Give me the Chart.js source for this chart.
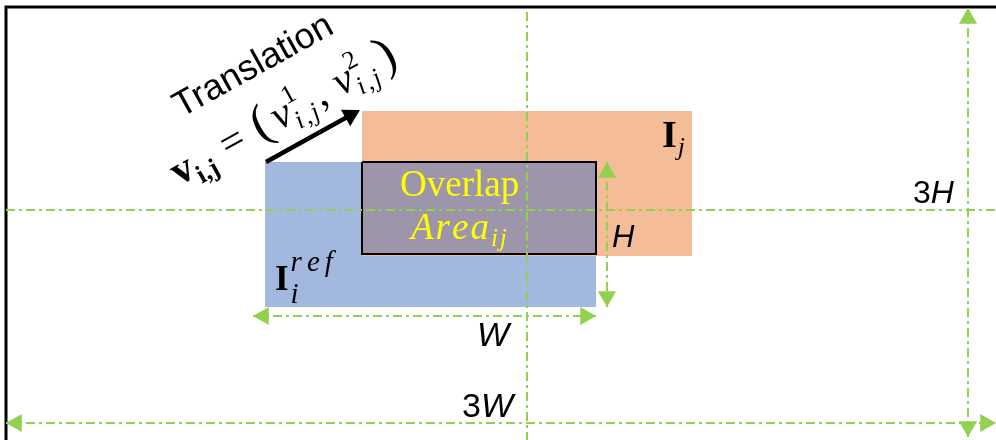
<!DOCTYPE html>
<html><head><meta charset="utf-8">
<script src="https://cdn.jsdelivr.net/npm/chart.js@4.4.1/dist/chart.umd.min.js"></script>
<style>html,body{margin:0;padding:0;background:#fff}#wrap{width:996px;height:440px}</style>
</head><body><div id="wrap"><canvas id="c" width="996" height="440"></canvas></div>
<script>
// ---- data (diagram units on a 996 x 440 board) ----
const boxNames   = ['I_i^ref', 'I_j', 'Overlap'];
const boxLeft    = [265, 362, 362];
const boxRight   = [596, 692, 596];
const boxTop     = [162, 111, 162];
const boxBottom  = [307, 256, 254];

const frameX = [6, 6, 996];
const frameY = [440, 7, 7];

const guideNames = ['vertical centre', 'horizontal centre'];
const guideX1 = [527, 6];
const guideY1 = [12, 210];
const guideX2 = [527, 996];
const guideY2 = [440, 210];

const dimNames = ['W', 'H', '3W', '3H'];
const dimX1 = [253, 607, 6, 968];
const dimY1 = [316, 162, 423, 8];
const dimX2 = [596, 607, 996, 968];
const dimY2 = [316, 307, 423, 437];

const moveFrom = [266, 162];
const moveTo   = [360, 110];

const labelTexts = ['Translation', 'Overlap', 'Area', 'W', '3W', 'H', '3H'];

// ---- styles ----
const GREEN = '#92d050';
const boxColors = ['#a3b8df', '#f5bc98', '#9d95aa'];
const HEAD = 10.5;

const datasets = [];
boxNames.forEach((n, i) => {
  datasets.push({
    label: n,
    data: [{x: boxLeft[i], y: boxTop[i]}, {x: boxRight[i], y: boxTop[i]}],
    fill: {value: boxBottom[i]},
    backgroundColor: boxColors[i],
    borderWidth: 0, pointRadius: 0, clip: false
  });
});
datasets.push({
  label: 'overlap outline',
  data: [
    {x: boxLeft[2], y: boxTop[2]}, {x: boxRight[2], y: boxTop[2]},
    {x: boxRight[2], y: boxBottom[2]}, {x: boxLeft[2], y: boxBottom[2]},
    {x: boxLeft[2], y: boxTop[2]}
  ],
  borderColor: '#000', borderWidth: 2, pointRadius: 0, fill: false, clip: false
});
datasets.push({
  label: 'frame',
  data: frameX.map((x, i) => ({x, y: frameY[i]})),
  borderColor: '#000', borderWidth: 3, pointRadius: 0, fill: false, clip: false,
  borderJoinStyle: 'miter'
});
guideNames.forEach((n, i) => {
  datasets.push({
    label: n,
    data: [{x: guideX1[i], y: guideY1[i]}, {x: guideX2[i], y: guideY2[i]}],
    borderColor: GREEN, borderWidth: 2, borderDash: [9, 4, 3, 4],
    pointRadius: 0, fill: false, clip: false
  });
});
const headPts = [], headRot = [];
function addHead(tx, ty, fx, fy) {
  const dx = tx - fx, dy = ty - fy, L = Math.hypot(dx, dy);
  const ux = dx / L, uy = dy / L;
  headPts.push({x: tx - ux * HEAD, y: ty - uy * HEAD});
  headRot.push(Math.atan2(ux, -uy) * 180 / Math.PI);
}
dimNames.forEach((n, i) => {
  datasets.push({
    label: n,
    data: [{x: dimX1[i], y: dimY1[i]}, {x: dimX2[i], y: dimY2[i]}],
    borderColor: GREEN, borderWidth: 2, borderDash: [9, 4, 3, 4],
    pointRadius: 0, fill: false, clip: false
  });
  addHead(dimX1[i], dimY1[i], dimX2[i], dimY2[i]);
  addHead(dimX2[i], dimY2[i], dimX1[i], dimY1[i]);
});
datasets.push({
  label: 'heads', data: headPts, showLine: false,
  pointStyle: 'triangle', pointRadius: HEAD, rotation: headRot,
  backgroundColor: GREEN, borderColor: GREEN, borderWidth: 0, clip: false
});
(function () {
  const dx = moveTo[0] - moveFrom[0], dy = moveTo[1] - moveFrom[1], L = Math.hypot(dx, dy);
  const ux = dx / L, uy = dy / L, r = 11;
  const c = {x: moveTo[0] - ux * r, y: moveTo[1] - uy * r};
  datasets.push({
    label: 'translation',
    data: [{x: moveFrom[0], y: moveFrom[1]}, c],
    borderColor: '#000', borderWidth: 4.5, pointRadius: 0, fill: false, clip: false
  });
  datasets.push({
    label: 'translation head', data: [c], showLine: false,
    pointStyle: 'triangle', pointRadius: r, rotation: Math.atan2(ux, -uy) * 180 / Math.PI,
    backgroundColor: '#000', borderWidth: 0, clip: false
  });
})();
// draw in array order (first = bottom)
datasets.forEach((d, i) => { d.order = datasets.length - i; });

// ---- text ----
function drawRuns(ctx, x, y, angle, runs, color) {
  ctx.save();
  ctx.translate(x, y);
  ctx.rotate(angle * Math.PI / 180);
  ctx.textBaseline = 'alphabetic';
  ctx.textAlign = 'left';
  ctx.fillStyle = color;
  let cx = 0;
  for (const r of runs) {
    if (r.stack) {
      let w = 0;
      for (const s of r.stack) {
        ctx.font = s.f;
        let sx = cx;
        if (s.ls) {
          for (const ch of s.t) { ctx.fillText(ch, sx, s.dy || 0); sx += ctx.measureText(ch).width + s.ls; }
          w = Math.max(w, sx - cx - s.ls);
        } else {
          ctx.fillText(s.t, cx, s.dy || 0);
          w = Math.max(w, ctx.measureText(s.t).width);
        }
      }
      cx += w + (r.gap || 0);
    } else {
      ctx.font = r.f;
      if (r.ls) {
        for (const ch of r.t) { ctx.fillText(ch, cx, r.dy || 0); cx += ctx.measureText(ch).width + r.ls; }
      } else {
        ctx.fillText(r.t, cx, r.dy || 0);
        cx += ctx.measureText(r.t).width;
      }
      cx += r.gap || 0;
    }
  }
  ctx.restore();
}
const SANS = '"Liberation Sans", Arial, sans-serif';
const SERIF = '"Liberation Serif", "Times New Roman", serif';
const textPlugin = {
  id: 'texts',
  afterDatasetsDraw(chart) {
    const {ctx, scales: {x, y}} = chart;
    const P = (a, b) => [x.getPixelForValue(a), y.getPixelForValue(b)];
    let p;
    p = P(181, 118);
    drawRuns(ctx, p[0], p[1], -29, [{t: labelTexts[0], f: '36px ' + SANS}], '#000');
    p = P(179, 186);
    const sub = (t) => ({t, f: 'italic 26px ' + SERIF, dy: 9, ls: 2});
    drawRuns(ctx, p[0], p[1], -29, [
      {t: 'v', f: 'bold 42px ' + SERIF},
      {t: 'i,j', f: 'bold 26px ' + SERIF, dy: 9, gap: 13},
      {t: '=', f: '42px ' + SERIF, gap: 13},
      {t: '(', f: '50px ' + SERIF, gap: 5},
      {t: 'v', f: 'italic 42px ' + SERIF},
      {stack: [{t: '1', f: '26px ' + SERIF, dy: -19}, sub('i,j')], gap: 4},
      {t: ', ', f: '42px ' + SERIF, gap: 2},
      {t: 'v', f: 'italic 42px ' + SERIF},
      {stack: [{t: '2', f: '26px ' + SERIF, dy: -19}, sub('i,j')], gap: 7},
      {t: ')', f: '50px ' + SERIF}
    ], '#000');
    p = P(400, 196);
    drawRuns(ctx, p[0], p[1], 0, [{t: labelTexts[1], f: '37px ' + SERIF}], '#ffff00');
    p = P(411, 239);
    drawRuns(ctx, p[0], p[1], 0, [
      {t: labelTexts[2], f: 'italic 37px ' + SERIF, ls: 2},
      {t: 'ij', f: 'italic 25px ' + SERIF, dy: 7, ls: 2}
    ], '#ffff00');
    p = P(662, 147);
    drawRuns(ctx, p[0], p[1], 0, [
      {t: 'I', f: 'bold 38px ' + SERIF, gap: 1},
      {t: 'j', f: 'italic 26px ' + SERIF, dy: 8}
    ], '#000');
    p = P(275, 290);
    drawRuns(ctx, p[0], p[1], 0, [
      {t: 'I', f: 'bold 35px ' + SERIF, gap: 2},
      {stack: [{t: 'ref', f: 'italic 29px ' + SERIF, dy: -19, ls: 5}, {t: 'i', f: 'italic 29px ' + SERIF, dy: 13}]}
    ], '#000');
    p = P(477, 346);
    drawRuns(ctx, p[0], p[1], 0, [{t: labelTexts[3], f: 'italic 34px ' + SANS}], '#000');
    p = P(462, 417);
    drawRuns(ctx, p[0], p[1], 0, [{t: '3', f: '34px ' + SANS}, {t: 'W', f: 'italic 34px ' + SANS}], '#000');
    p = P(612, 247);
    drawRuns(ctx, p[0], p[1], 0, [{t: labelTexts[5], f: 'italic 31px ' + SANS}], '#000');
    p = P(913, 203);
    drawRuns(ctx, p[0], p[1], 0, [{t: '3', f: '32px ' + SANS}, {t: 'H', f: 'italic 32px ' + SANS}], '#000');
  }
};

new Chart(document.getElementById('c'), {
  type: 'line',
  data: {datasets},
  options: {
    responsive: false, animation: false, devicePixelRatio: 1, events: [],
    layout: {padding: 0, autoPadding: false},
    scales: {
      x: {type: 'linear', min: 0, max: 996, display: false},
      y: {type: 'linear', min: 0, max: 440, reverse: true, display: false}
    },
    plugins: {legend: {display: false}, tooltip: {enabled: false}}
  },
  plugins: [textPlugin]
});
</script></body></html>
